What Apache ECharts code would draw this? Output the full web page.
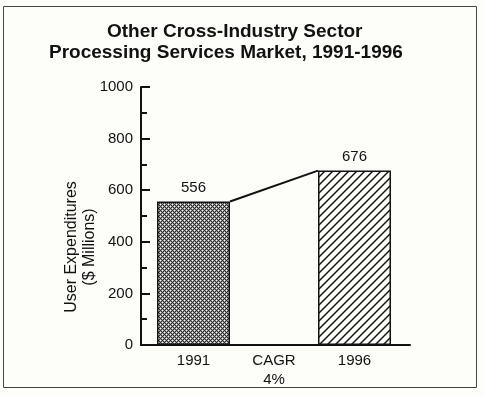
<!DOCTYPE html>
<html><head><meta charset="utf-8">
<script src="https://cdn.jsdelivr.net/npm/echarts/dist/echarts.min.js"></script>
<style>html,body{margin:0;padding:0;background:#fdfdfa}#c{width:484px;height:397px}</style>
</head><body><div id="c"></div>
<script>
const titleLines = ['Other Cross-Industry Sector', 'Processing Services Market, 1991-1996'];
const categories = ['1991', 'CAGR\n4%', '1996'];
const values = [556, null, 676];
const yTicks = [0, 200, 400, 600, 800, 1000];
const yName = 'User Expenditures\n($ Millions)';

const FONT = '"Liberation Sans", Arial, Helvetica, sans-serif';
const INK = '#111';
const BAR_W = 73;
const BAND = 80.5;

function crossPattern() {
  const c = document.createElement('canvas');
  c.width = 4; c.height = 4;
  const ctx = c.getContext('2d');
  const map = ['WGDG', 'GDGD', 'DGWG', 'GDGD'];
  const col = { W: '#f4f4f4', G: '#9c9c9c', D: '#2a2a2a' };
  for (let y = 0; y < 4; y++) for (let x = 0; x < 4; x++) {
    ctx.fillStyle = col[map[y][x]];
    ctx.fillRect(x, y, 1, 1);
  }
  return c;
}
function hatchPattern() {
  const s = 8;
  const c = document.createElement('canvas');
  c.width = s; c.height = s;
  const ctx = c.getContext('2d');
  ctx.fillStyle = '#fdfdfa';
  ctx.fillRect(0, 0, s, s);
  ctx.strokeStyle = INK;
  ctx.lineWidth = 1.4;
  [[-s, s, s, -s], [0, s, s, 0], [0, 2 * s, 2 * s, 0]].forEach(l => {
    ctx.beginPath(); ctx.moveTo(l[0], l[1]); ctx.lineTo(l[2], l[3]); ctx.stroke();
  });
  return c;
}
const fills = [
  { image: crossPattern(), repeat: 'repeat' },
  null,
  { image: hatchPattern(), repeat: 'repeat' }
];

const half = BAR_W / BAND / 2;
const firstIdx = 0, lastIdx = values.length - 1;
const lineData = [[firstIdx + half, values[firstIdx]], [lastIdx - half, values[lastIdx]]];

const chart = echarts.init(document.getElementById('c'), null, { renderer: 'canvas' });
const yMin = yTicks[0], yMax = yTicks[yTicks.length - 1], yStep = yTicks[1] - yTicks[0];

chart.setOption({
  backgroundColor: '#fdfdfa',
  animation: false,
  textStyle: { fontFamily: FONT },
  title: [
    { text: titleLines[0], left: 107, top: 21, padding: 0,
      textStyle: { fontSize: 19, fontWeight: 'bold', color: INK, lineHeight: 21, fontFamily: FONT } },
    { text: titleLines[1], left: 49, top: 42, padding: 0,
      textStyle: { fontSize: 19, fontWeight: 'bold', color: INK, lineHeight: 21, fontFamily: FONT } }
  ],
  graphic: [{
    type: 'rect', shape: { x: 3.5, y: 6.5, width: 473, height: 381 },
    style: { fill: 'none', stroke: '#444', lineWidth: 1 }, silent: true
  }],
  grid: [
    { left: 141, right: 74, top: 87, bottom: 52 },
    { left: 153.25, right: 89.25, top: 87, bottom: 52 }
  ],
  xAxis: [
    { gridIndex: 0, type: 'value', min: 0, max: 1,
      axisLine: { show: true, onZero: false, lineStyle: { color: INK, width: 2 } },
      axisTick: { show: false }, axisLabel: { show: false }, splitLine: { show: false } },
    { gridIndex: 1, type: 'category', data: categories,
      axisLine: { show: false }, axisTick: { show: false },
      axisLabel: { fontSize: 15, color: INK, lineHeight: 19, margin: 6, fontFamily: FONT } },
    { gridIndex: 1, type: 'value', min: -0.5, max: categories.length - 0.5, show: false }
  ],
  yAxis: [
    { gridIndex: 0, type: 'value', min: yMin, max: yMax, interval: yStep,
      axisLine: { show: true, lineStyle: { color: INK, width: 2 } },
      axisTick: { show: true, inside: true, length: 9, lineStyle: { color: INK, width: 2 } },
      minorTick: { show: true, splitNumber: 2, length: 6, lineStyle: { color: INK, width: 2 } },
      splitLine: { show: false },
      axisLabel: { fontSize: 15, color: INK, margin: 8, fontFamily: FONT, formatter: v => String(v) },
      name: yName, nameLocation: 'middle', nameRotate: 90, nameGap: 42, nameMoveOverlap: false,
      nameTextStyle: { fontSize: 16, lineHeight: 18, color: INK, fontFamily: FONT, padding: [0, 62, 0, 0] } },
    { gridIndex: 1, type: 'value', min: yMin, max: yMax, show: false }
  ],
  series: [
    { type: 'bar', xAxisIndex: 1, yAxisIndex: 1, barWidth: BAR_W,
      data: values.map((v, i) => v == null ? null : { value: v, itemStyle: { color: fills[i] } }),
      itemStyle: { borderColor: INK, borderWidth: 1.5 },
      label: { show: true, position: 'top', distance: 6, fontSize: 15, color: INK, fontFamily: FONT } },
    { type: 'line', xAxisIndex: 2, yAxisIndex: 1, data: lineData, symbol: 'none', z: 5,
      lineStyle: { color: INK, width: 2 } }
  ]
});
</script></body></html>
